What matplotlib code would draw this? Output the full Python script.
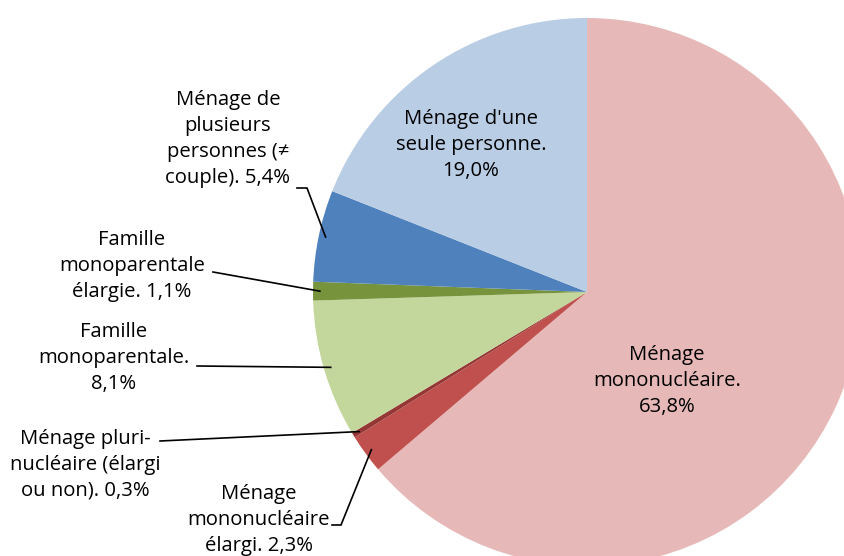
import numpy as np
import matplotlib
matplotlib.use('Agg')
import matplotlib.pyplot as plt

plt.rcParams['font.family'] = ['Open Sans', 'DejaVu Sans']

# data
labels = ["Ménage\nmononucléaire.\n63,8%",
          "Ménage\nmononucléaire\nélargi. 2,3%",
          "Ménage pluri-\nnucléaire (élargi\nou non). 0,3%",
          "Famille\nmonoparentale.\n8,1%",
          "Famille\nmonoparentale\nélargie. 1,1%",
          "Ménage de\nplusieurs\npersonnes (≠\ncouple). 5,4%",
          "Ménage d'une\nseule personne.\n19,0%"]
values = [63.8, 2.3, 0.3, 8.1, 1.1, 5.4, 19.0]
colors = ['#E6B9B8', '#C0504D', '#953735', '#C3D69B', '#77933C', '#4F81BD', '#B9CDE5']

W, H = 845, 556
cx, cy, R = 587, 292, 274   # pie centre / radius in pixels (y down)

def fy(y):
    return H - y

fig = plt.figure(figsize=(W / 100, H / 100), dpi=100)
ax = fig.add_axes([0, 0, 1, 1])
wedges, _ = ax.pie(values, colors=colors, startangle=90, counterclock=False,
                   center=(cx, fy(cy)), radius=R, frame=True,
                   wedgeprops=dict(linewidth=0))
ax.set_xlim(0, W)
ax.set_ylim(0, H)
ax.set_aspect('equal')
ax.axis('off')

# label text centres (pixels)
text_pos = [(667, 381), (259, 520), (85, 465), (114, 358), (132, 266), (228, 139), (471, 145)]
# leader stubs: (stub start x, stub end x, y) ; None for labels inside
stubs = [None, (332, 341, 525), (160, 160, 441), (197, 197, 366), (213, 213, 272), (297, 307, 188), None]

for i, lab in enumerate(labels):
    tx, ty = text_pos[i]
    ax.text(tx, fy(ty), lab, ha='center', va='center', fontsize=14.6,
            linespacing=1.38, color='black')
    if stubs[i] is not None:
        w = wedges[i]
        mid = np.deg2rad((w.theta1 + w.theta2) / 2)
        ex = cx + 0.975 * R * np.cos(mid)
        ey = fy(cy) + 0.975 * R * np.sin(mid)
        x0, x1, sy = stubs[i]
        ax.plot([x0, x1, ex], [fy(sy), fy(sy), ey], color='black', lw=1.2,
                solid_joinstyle='miter')

fig.savefig('out.png', dpi=100)
